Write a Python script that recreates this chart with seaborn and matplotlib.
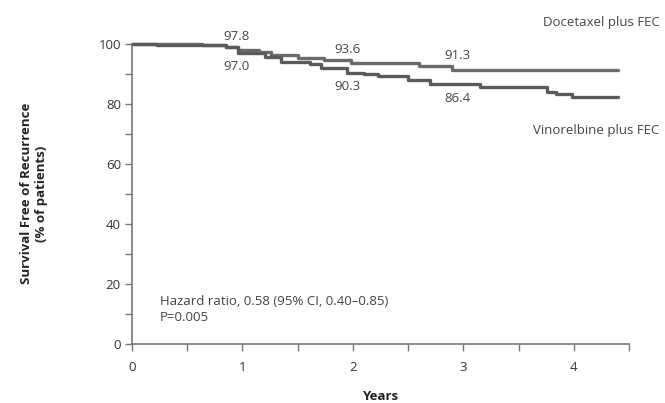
import matplotlib
matplotlib.use("Agg")
import matplotlib.pyplot as plt
import numpy as np
import pandas as pd
import seaborn as sns

# Kaplan-Meier step estimates (years, % free of recurrence)
doc_years = [0, 0.63, 0.85, 0.96, 1.15, 1.26, 1.50, 1.74, 1.98, 2.60, 2.90, 4.40]
doc_surv = [100, 99.4, 98.9, 97.8, 97.3, 96.3, 95.3, 94.6, 93.6, 92.6, 91.3, 91.3]

vin_years = [0, 0.23, 0.85, 0.96, 1.20, 1.35, 1.61, 1.71, 1.95, 2.10, 2.23, 2.50,
             2.70, 3.15, 3.76, 3.84, 3.98, 4.40]
vin_surv = [100, 99.5, 98.9, 97.0, 95.5, 94.0, 93.1, 92.0, 90.3, 89.8, 89.2, 87.9,
            86.4, 85.4, 84.0, 83.2, 82.1, 82.1]

# Annotated values at 1, 2 and 3 years
label_years = [1, 2, 3]
doc_labels = [97.8, 93.6, 91.3]
vin_labels = [97.0, 90.3, 86.4]

arm_names = ["Docetaxel plus FEC", "Vinorelbine plus FEC"]

df = pd.concat([
    pd.DataFrame({"Years": doc_years, "Survival": doc_surv, "Arm": arm_names[0]}),
    pd.DataFrame({"Years": vin_years, "Survival": vin_surv, "Arm": arm_names[1]}),
], ignore_index=True)

sns.set_style("ticks")
plt.rcParams["font.family"] = ["Open Sans", "DejaVu Sans"]

fig = plt.figure(figsize=(6.65, 4.03), dpi=100)
ax = fig.add_axes([0.1985, 0.1464, 0.7475, 0.7456])

sns.lineplot(data=df, x="Years", y="Survival", hue="Arm", units="Arm",
             estimator=None, drawstyle="steps-post", ax=ax,
             palette=["#6a6a6a", "#5a5a5a"], linewidth=2.4, legend=False)
for line in ax.get_lines():
    line.set_clip_on(False)

ax.set_xlim(0, 4.5)
ax.set_ylim(0, 100)
ax.set_xticks([0, 1, 2, 3, 4])
ax.set_xticks(np.arange(0, 4.51, 0.5), minor=True)
ax.set_yticks([0, 20, 40, 60, 80, 100])
ax.set_yticks(np.arange(10, 100, 20), minor=True)
ax.tick_params(which="both", direction="out", length=5, width=1.0, color="#777777",
               labelsize=9.5, labelcolor="#333333")
ax.tick_params(axis="x", which="both", pad=7)
ax.tick_params(axis="y", which="both", pad=3)
sns.despine(ax=ax)
for s in ("left", "bottom"):
    ax.spines[s].set_color("#777777")
    ax.spines[s].set_linewidth(1.2)

ax.set_xlabel("Years", fontsize=9.5, fontweight="bold", color="#222222", labelpad=12)
ax.set_ylabel("Survival Free of Recurrence\n(% of patients)", fontsize=9.5,
              fontweight="bold", color="#222222", labelpad=36)

txt = dict(fontsize=9.5, color="#444444", ha="center")
for x, d, v in zip(label_years, doc_labels, vin_labels):
    ax.text(x - 0.05, d + 2.4, f"{d:.1f}", va="bottom", **txt)
    ax.text(x - 0.05, v - 2.6, f"{v:.1f}", va="top", **txt)

fig.text(0.992, 0.945, arm_names[0], fontsize=9.5, color="#444444", ha="right", va="center")
fig.text(0.992, 0.676, arm_names[1], fontsize=9.5, color="#444444", ha="right", va="center")

ax.text(0.25, 11.5, "Hazard ratio, 0.58 (95% CI, 0.40\u20130.85)\nP=0.005",
        fontsize=9.5, color="#444444", ha="left", va="center", linespacing=1.3)

fig.savefig("out.png", dpi=100)
